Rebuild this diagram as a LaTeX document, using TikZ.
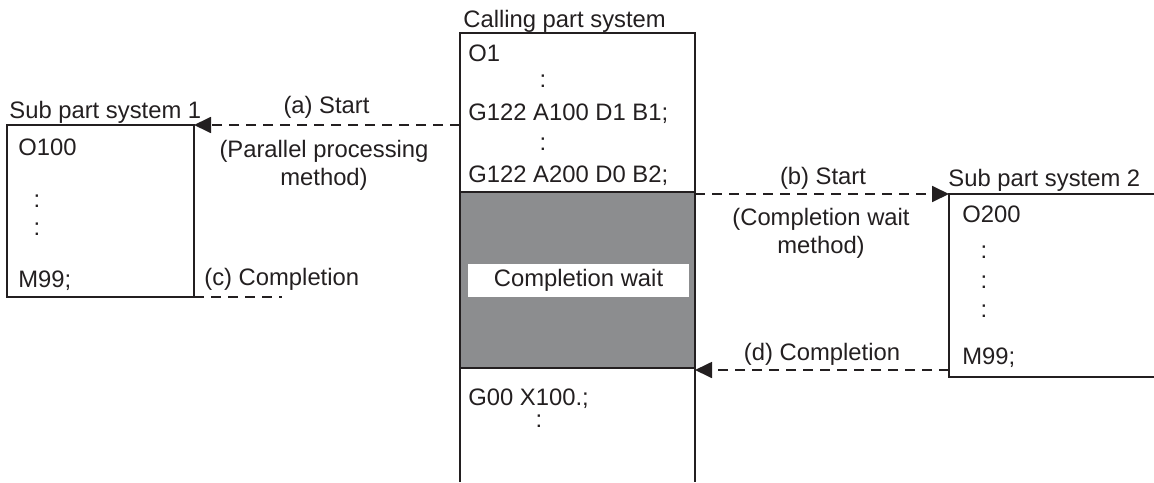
\documentclass[tikz,border=0pt]{standalone}
\usepackage{fontspec}
\setmainfont{Liberation Sans}
\usetikzlibrary{arrows.meta}
\definecolor{waitgray}{RGB}{140,141,143}
\definecolor{ink}{RGB}{35,31,32}
\begin{document}
\begin{tikzpicture}[x=0.5pt,y=-0.5pt,
  font=\fontsize{11.9}{14}\selectfont,
  every node/.style={text=ink},
  boxline/.style={draw=ink, line width=0.9pt},
  txt/.style={inner sep=0pt, anchor=base west},
  ctxt/.style={inner sep=0pt, anchor=base},
  conn/.style={draw=ink, line width=0.9pt, dash pattern=on 5pt off 3.5pt},
  tip/.style={-{Triangle[length=8.5pt,width=8pt]}}]
\useasboundingbox (0,0) rectangle (1154,482);

% ---------- Sub part system 1 ----------
\node[boxline, anchor=north west, minimum width=93.5pt, minimum height=86pt,
      inner sep=0pt, outer sep=0pt] (sub1) at (7,125) {};
\node[txt] (s1lab) at (9,118) {Sub part system 1};
\node[txt] (s1a) at (18,155) {O100};
\node[ctxt] (s1b) at (37,207) {:};
\node[ctxt] (s1c) at (37,235) {:};
\node[txt] (s1d) at (18,287) {M99;};

% ---------- Calling part system ----------
\coordinate (cbl) at (460,482);
\coordinate (ctl) at (460,33);
\coordinate (ctr) at (695,33);
\coordinate (cbr) at (695,482);
\node[draw=ink, line width=0.9pt, fill=waitgray, anchor=north west,
      minimum width=117.5pt, minimum height=88pt, inner sep=0pt, outer sep=0pt]
      (wait) at (460,192) {};
\draw[boxline] (cbl) -- (ctl) -- (ctr) -- (cbr);
\node[fill=white, minimum width=110.5pt, minimum height=16.5pt, inner sep=0pt]
      (waitlab) at (578.5,280.5) {Completion wait};
\node[txt] (clab) at (463,27) {Calling part system};
\node[txt] (c1) at (468,61) {O1};
\node[ctxt] (c2) at (543,87) {:};
\node[txt] (c3) at (468,120) {G122 A100 D1 B1;};
\node[ctxt] (c4) at (543,150) {:};
\node[txt] (c5) at (468,182) {G122 A200 D0 B2;};
\node[txt] (c6) at (468,405) {G00 X100.;};
\node[ctxt] (c7) at (539,427) {:};

% ---------- Sub part system 2 ----------
\coordinate (s2tr) at (1154,194);
\coordinate (s2tl) at (949,194);
\coordinate (s2bl) at (949,377);
\coordinate (s2br) at (1154,377);
\draw[boxline] (s2tr) -- (s2tl) -- (s2bl) -- (s2br);
\node[txt] (s2lab) at (948,186) {Sub part system 2};
\node[txt] (s2a) at (962,222) {O200};
\node[ctxt] (s2b) at (984,258) {:};
\node[ctxt] (s2c) at (984,288) {:};
\node[ctxt] (s2d) at (984,317) {:};
\node[txt] (s2e) at (962,364) {M99;};

% ---------- connectors ----------
\coordinate (aStart) at (460,125);
\draw[conn, tip] (aStart) -- (sub1.north east);
\node[ctxt] (alab) at (326.5,113) {(a) Start};
\node[ctxt] (alab2) at (324,157) {(Parallel processing};
\node[ctxt] (alab3) at (324,185) {method)};

\coordinate (cEnd) at (282,297);
\draw[conn] (sub1.south east) -- (cEnd);
\node[txt] (clab2) at (204,285) {(c) Completion};

\coordinate (bStart) at (695,194);
\draw[conn, tip] (bStart) -- (s2tl);
\node[ctxt] (blab) at (823,184) {(b) Start};
\node[ctxt] (blab2) at (821,225) {(Completion wait};
\node[ctxt] (blab3) at (821,253) {method)};

\coordinate (dStart) at (949,370);
\coordinate (dEnd) at (695,370);
\draw[conn, tip] (dStart) -- (dEnd);
\node[ctxt] (dlab) at (822,360) {(d) Completion};
\end{tikzpicture}
\end{document}
